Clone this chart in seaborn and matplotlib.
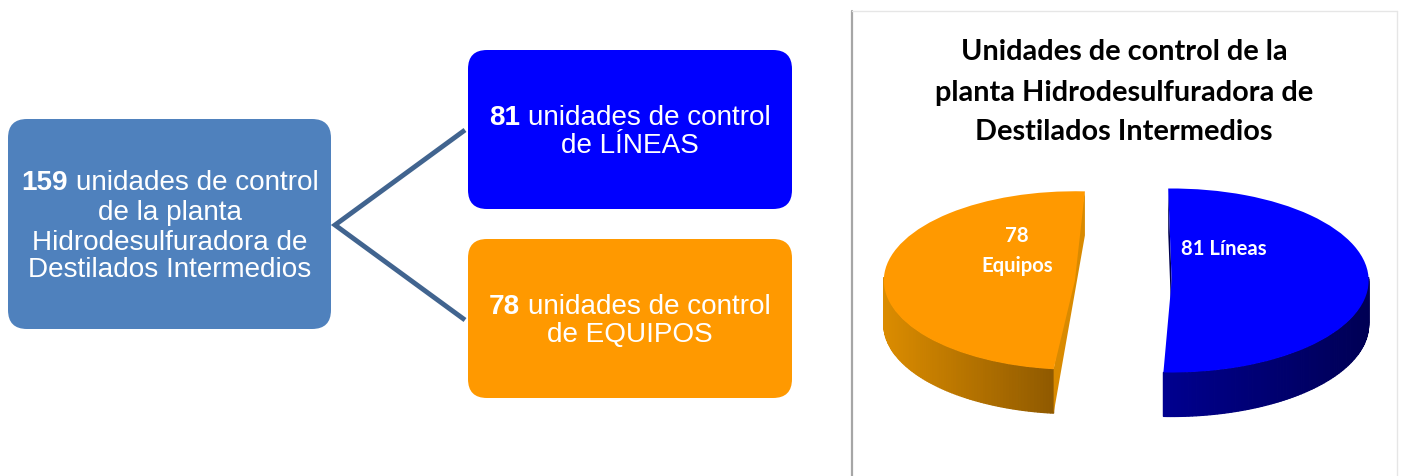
import numpy as np
import matplotlib
matplotlib.use("Agg")
import matplotlib.pyplot as plt
from matplotlib.patches import FancyBboxPatch
import seaborn as sns

# ---- data ----
categories = ["Líneas", "Equipos"]
units = [81, 78]
title_lines = ["Unidades de control de la", "planta Hidrodesulfuradora de", "Destilados Intermedios"]
total_lines = [("159", " unidades de control"), ("", "de la planta"), ("", "Hidrodesulfuradora de"), ("", "Destilados Intermedios")]
lines_text = [("81", " unidades de control"), ("", "de LÍNEAS")]
equip_text = [("78", " unidades de control"), ("", "de EQUIPOS")]

sns.set_theme(style="white")
plt.rcParams["font.family"] = ["Liberation Sans", "DejaVu Sans"]

STEEL, BLUE, ORANGE = sns.color_palette(["#4F81BD", "#0000FF", "#FF9900"])

W, H = 1401, 476
fig = plt.figure(figsize=(W / 100, H / 100), dpi=100, facecolor="white")
ax = fig.add_axes([0, 0, 1, 1])
ax.set_xlim(0, W)
ax.set_ylim(H, 0)
ax.axis("off")

# ---- boxes ----
def box(x0, y0, x1, y1, color, rad=19):
    ax.add_patch(FancyBboxPatch((x0 + rad, y0 + rad), x1 - x0 - 2 * rad, y1 - y0 - 2 * rad,
                                boxstyle=f"round,pad={rad},rounding_size={rad}",
                                fc=color, ec="none", zorder=2))

box(8, 119, 331, 329, STEEL)
box(468, 50, 792, 209, BLUE)
box(468, 239, 792, 398, ORANGE)

ax.plot([465, 335, 465], [130, 225, 320], color="#41648F", lw=3.5, zorder=1,
        solid_joinstyle="miter", solid_capstyle="butt")

renderer = fig.canvas.get_renderer()
FS = 20.1

def mixed_line(cx, y, bold, regular):
    t_b = ax.text(0, y, bold, color="white", fontsize=FS, fontweight="bold", va="baseline", ha="left", zorder=3)
    t_r = ax.text(0, y, regular.strip(), color="white", fontsize=FS, va="baseline", ha="left", zorder=3)
    wb = t_b.get_window_extent(renderer).width if bold else 0
    wr = t_r.get_window_extent(renderer).width
    gap = FS * 100 / 72 * 0.278 if bold else 0
    x0 = cx - (wb + gap + wr) / 2
    t_b.set_x(x0)
    t_r.set_x(x0 + wb + gap)

for (b, r), y in zip(total_lines, [190, 220, 250, 277]):
    mixed_line(170, y, b, r)
for (b, r), y in zip(lines_text, [125, 153]):
    mixed_line(630, y, b, r)
for (b, r), y in zip(equip_text, [314, 342]):
    mixed_line(630, y, b, r)

# ---- panel frame ----
ax.plot([852, 852], [11, H], color="#A6A6A6", lw=1.6, zorder=1)
ax.plot([852, 1397], [11, 11], color="#E6E6E6", lw=1, zorder=1)
ax.plot([1397, 1397], [11, H], color="#E6E6E6", lw=1, zorder=1)

for line, y in zip(title_lines, [60, 101, 140]):
    ax.text(1124, y, line, ha="center", va="baseline", fontsize=20.8, fontweight="bold",
            color="black", family=["Lato", "DejaVu Sans"])

# ---- pie ----
PX, PY, XU, YU = 1122, 280.5, 197, 92          # pie axes origin and unit sizes in pixels
x0, x1, y0, y1 = 860, 1395, 170, 440
pax = fig.add_axes([x0 / W, 1 - y1 / H, (x1 - x0) / W, (y1 - y0) / H], zorder=5)

flat = dict(linewidth=0, edgecolor="none")
orange_wedges, _ = pax.pie([units[1], units[0]], colors=[ORANGE, BLUE], startangle=87,
                           radius=0.97, center=(-0.239, 0), counterclock=True, wedgeprops=flat)
orange_wedges[1].set_visible(False)
blue_wedges, _ = pax.pie([units[0], units[1]], colors=[BLUE, ORANGE], startangle=91,
                         radius=1.0, center=(0.252, 0), counterclock=False, wedgeprops=flat)
blue_wedges[1].set_visible(False)

pax.set_aspect("auto")
pax.set_xlim((x0 - PX) / XU, (x1 - PX) / XU)
pax.set_ylim((PY - y1) / YU, (PY - y0) / YU)
pax.patch.set_alpha(0)
pax.set_frame_on(False)

DEPTH = 44 / YU

def edge(w, angle):
    a = np.radians(angle)
    return w.center[0] + w.r * np.cos(a), w.center[1] + w.r * np.sin(a)

def rim(w, a0, a1, c0, c1):
    """Extruded rim of a wedge between angles a0..a1, shaded along x from c0 to c1."""
    angs = np.linspace(a0, a1, 90)
    c0, c1 = np.array(c0), np.array(c1)
    xa, xb = edge(w, a0)[0], edge(w, a1)[0]
    for a, b in zip(angs[:-1], angs[1:]):
        xs, ys = edge(w, np.array([a, b]))
        t = abs((xs[0] - xa) / (xb - xa))
        col = c0 + (c1 - c0) * t
        pax.fill(np.r_[xs, xs[::-1]], np.r_[ys, ys[::-1] - DEPTH], fc=col, ec=col, lw=0.9, zorder=2)

oran = orange_wedges[0]
blu = blue_wedges[0]
for w in (oran, blu):
    w.set_zorder(5)

rim(oran, 178, oran.theta2, (0.86, 0.55, 0.0), (0.56, 0.35, 0.0))
rim(blu, blu.theta1, 2, (0.0, 0.0, 0.56), (0.0, 0.0, 0.33))

# cut faces
bx, by = edge(oran, oran.theta2)
tx, ty = edge(oran, oran.theta1)
pax.fill([tx, tx, bx, bx], [ty, ty - DEPTH, by - DEPTH, by], color="#D98A00", lw=0, zorder=3)

cx, cy = blu.center
tx, ty = edge(blu, blu.theta2)
pax.fill([tx, tx, cx, cx], [ty, ty - DEPTH, cy - DEPTH, cy], color="#000050", lw=0, zorder=3)

# pie labels
lab = dict(color="white", fontweight="bold", fontsize=14.6, ha="center", va="center",
           family=["Lato", "DejaVu Sans"], zorder=8)
ax2 = fig.add_axes([0, 0, 1, 1], zorder=6)
ax2.set_xlim(0, W); ax2.set_ylim(H, 0); ax2.axis("off")
ax2.text(1017, 236, str(units[1]), **lab)
ax2.text(1017, 266, categories[1], **lab)
ax2.text(1224, 249, f"{units[0]} {categories[0]}", **lab)

sns.despine(ax=pax, left=True, bottom=True)
fig.savefig("out.png", dpi=100)
